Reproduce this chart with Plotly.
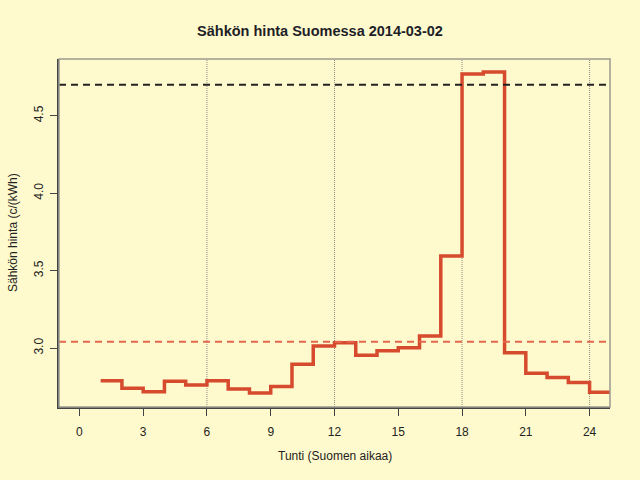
import plotly.graph_objects as go

# tuntihinnat (c/kWh), tunnit 1..24
hours = list(range(1, 26))
prices = [2.789, 2.740, 2.718, 2.785, 2.761, 2.789, 2.735, 2.709, 2.752, 2.895,
          3.013, 3.034, 2.953, 2.983, 3.002, 3.078, 3.594, 4.770, 4.783, 2.970,
          2.837, 2.810, 2.778, 2.714]
mean_price = 3.04
ref_price = 4.70
grid_hours = [6, 12, 18, 24]
x_ticks = [0, 3, 6, 9, 12, 15, 18, 21, 24]
y_ticks = [3.0, 3.5, 4.0, 4.5]

bg = "#FFFACD"
line_col = "#D64A2E"
font = "Liberation Sans, Arial, sans-serif"

fig = go.Figure()

# viimeinen porras jatkuu tunnille 25
fig.add_trace(go.Scatter(
    x=hours, y=prices + [prices[-1]],
    mode="lines", line=dict(color=line_col, width=3.5, shape="hv"),
    showlegend=False, hoverinfo="skip"
))

for h in grid_hours:
    fig.add_vline(x=h, line=dict(color="#8C8C84", width=1, dash="1px,1px"), layer="below")

fig.add_hline(y=ref_price, line=dict(color="#222222", width=2, dash="7px,5px"))
fig.add_hline(y=mean_price, line=dict(color="#E2684E", width=2, dash="7px,5px"))

# harmaa laatikko
fig.add_shape(type="rect", xref="paper", yref="paper", x0=0, x1=1, y0=0, y1=1,
              line=dict(color="#9A9A90", width=1.5))

fig.update_layout(
    width=640, height=480,
    margin=dict(l=59, r=30, t=59, b=73),
    paper_bgcolor=bg, plot_bgcolor=bg,
    font=dict(family=font, size=12, color="#222222"),
    title=dict(text="<b>Sähkön hinta Suomessa 2014-03-02</b>", x=0.5, xanchor="center",
               y=1 - 31 / 480, yanchor="middle",
               font=dict(family="Liberation Sans, Arial", size=14.5, color="#1E1E28")),
    xaxis=dict(range=[-0.96, 24.96], tickvals=x_ticks, ticks="outside", ticklen=7,
               tickcolor="#444444", showgrid=False, zeroline=False, ticklabelstandoff=6,
               showline=True, linecolor="#444444", linewidth=1.5),
    yaxis=dict(range=[2.619, 4.867], tickvals=y_ticks, ticktext=["3.0", "3.5", "4.0", "4.5"],
               ticks="outside", ticklen=7, tickcolor="#444444", tickangle=-90,
               showgrid=False, zeroline=False, ticklabelstandoff=2,
               showline=True, linecolor="#444444", linewidth=1.5),
    annotations=[
        dict(text="Tunti (Suomen aikaa)", xref="paper", yref="paper", x=0.5, y=0,
             yshift=-58, showarrow=False, font=dict(size=12)),
        dict(text="Sähkön hinta (c/(kWh)", xref="paper", yref="paper", x=0, y=0.5,
             xshift=-55, textangle=-90, showarrow=False, font=dict(size=12)),
    ],
)

fig.write_html("out.html", config={"displayModeBar": False},
               post_script="document.body.style.margin='0';")
